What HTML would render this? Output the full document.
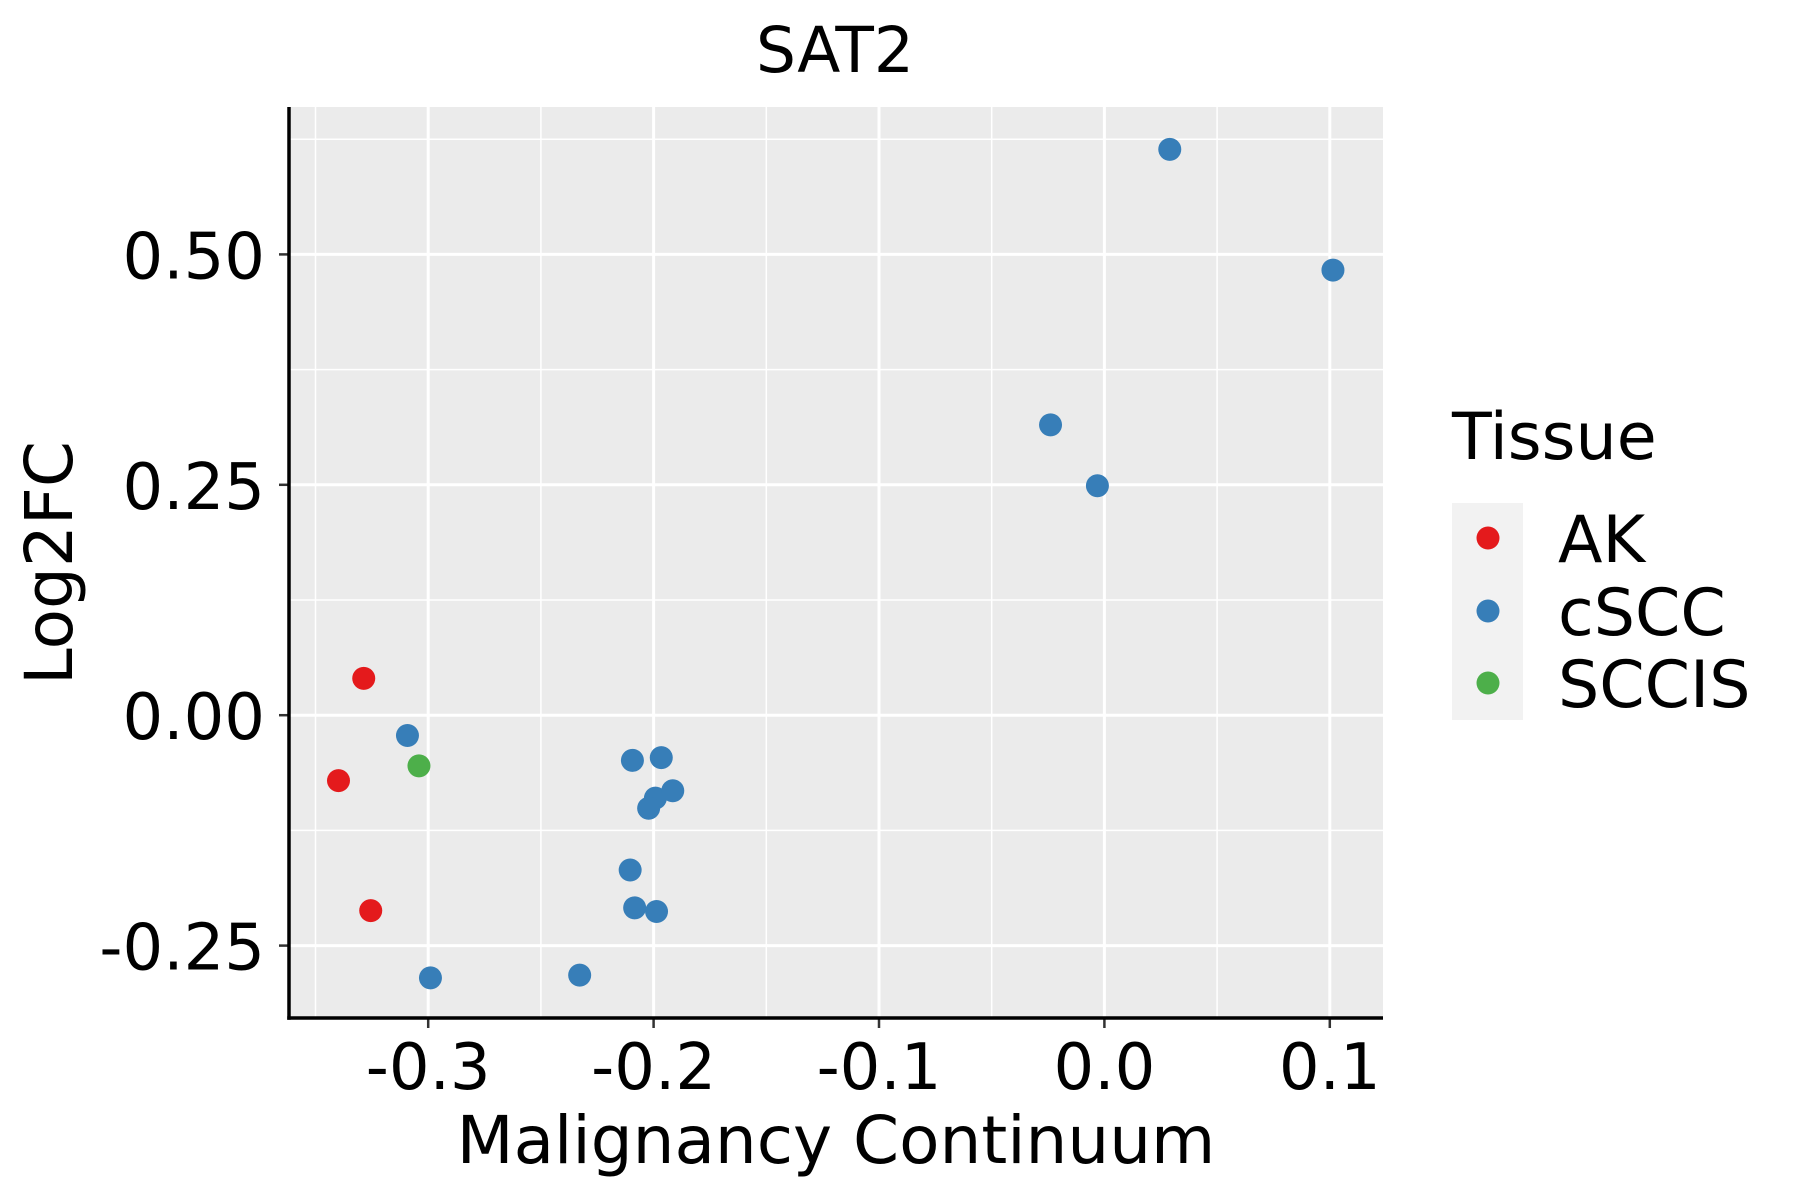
<!DOCTYPE html>
<html><head><meta charset="utf-8"><style>body{margin:0;background:#fff}svg{display:block;font-family:"DejaVu Sans","Liberation Sans",sans-serif}</style></head>
<body>
<svg id="chart" width="1800" height="1200" viewBox="0 0 1800 1200"></svg>
<script>
const akX=[-0.3286,-0.3398,-0.3255];
const akY=[0.040,-0.071,-0.212];
const sccisX=[-0.3041];
const sccisY=[-0.055];
const csccX=[-0.3092,-0.299,-0.2328,-0.2094,-0.1966,-0.1992,-0.1915,-0.2022,-0.2104,-0.2084,-0.1987,-0.0239,-0.0031,0.029,0.1014];
const csccY=[-0.022,-0.285,-0.282,-0.049,-0.046,-0.090,-0.082,-0.101,-0.168,-0.209,-0.213,0.315,0.249,0.614,0.483];
const xTicks=[-0.3,-0.2,-0.1,0.0,0.1];
const xTickLabels=["-0.3","-0.2","-0.1","0.0","0.1"];
const yTicks=[0.5,0.25,0,-0.25];
const yTickLabels=["0.50","0.25","0.00","-0.25"];
const L=289,R=1383,T=107,B=1018;
const X=v=>1104.4+v*2254;
const Y=v=>715.2-v*921.6;
const NS="http://www.w3.org/2000/svg";
const svg=document.getElementById('chart');
function el(t,a,txt){const e=document.createElementNS(NS,t);for(const k in a)e.setAttribute(k,a[k]);if(txt!==undefined)e.textContent=txt;svg.appendChild(e);return e;}
let e=el('rect',{x:L,y:T,width:R-L,height:B-T,fill:'#ebebeb'});


[-0.35,-0.25,-0.15,-0.05,0.05].forEach(m=>{if(X(m)>L&&X(m)<R){e=el('line',{x1:X(m),x2:X(m),y1:T,y2:B,stroke:'#fff','stroke-width':1.5});}});
[-0.375,-0.125,0.125,0.375,0.625].forEach(m=>{if(Y(m)>T&&Y(m)<B){e=el('line',{x1:L,x2:R,y1:Y(m),y2:Y(m),stroke:'#fff','stroke-width':1.5});}});
xTicks.forEach((v,i)=>{e=el('line',{x1:X(v),x2:X(v),y1:T,y2:B,stroke:'#fff','stroke-width':3});
el('line',{x1:X(v),x2:X(v),y1:B,y2:B+10,stroke:'#333','stroke-width':2.5});
e=el('text',{x:X(v),y:1089,'text-anchor':'middle','font-size':64,fill:'#000'},xTickLabels[i]);});
yTicks.forEach((v,i)=>{e=el('line',{x1:L,x2:R,y1:Y(v),y2:Y(v),stroke:'#fff','stroke-width':3});
el('line',{x1:L-10,x2:L,y1:Y(v),y2:Y(v),stroke:'#333','stroke-width':2.5});
e=el('text',{x:L-24,y:Y(v)+24,'text-anchor':'end','font-size':64,fill:'#000'},yTickLabels[i]);});
e=el('line',{x1:L,x2:L,y1:T,y2:B+1.75,stroke:'#000','stroke-width':3.5});
e=el('line',{x1:L-1.75,x2:R,y1:B,y2:B,stroke:'#000','stroke-width':3.5});
function pts(xs,ys,c,n){xs.forEach((x,i)=>{const p=el('circle',{cx:X(x),cy:Y(ys[i]),r:11.5,fill:c});});}
pts(akX,akY,'#e41a1c','point-ak');
pts(sccisX,sccisY,'#4daf4a','point-sccis');
pts(csccX,csccY,'#377eb8','point-cscc');
e=el('text',{x:835,y:72,'text-anchor':'middle','font-size':63,fill:'#000'},'SAT2');
e=el('text',{x:836,y:1163,'text-anchor':'middle','font-size':66,fill:'#000'},'Malignancy Continuum');
e=el('text',{x:0,y:0,'text-anchor':'middle','font-size':66,fill:'#000',transform:'translate(72,563) rotate(-90)'},'Log2FC');
e=el('text',{x:1452,y:459,'font-size':65,fill:'#000'},'Tissue');
e=el('rect',{x:1452,y:503,width:71,height:217,fill:'#f2f2f2'});
[['AK','#e41a1c',538],['cSCC','#377eb8',611],['SCCIS','#4daf4a',683]].forEach(([t,c,y])=>{
e=el('circle',{cx:1488,cy:y,r:11.5,fill:c});
e=el('text',{x:1558,y:y+24,'font-size':65,fill:'#000'},t);});
</script>
</body></html>
